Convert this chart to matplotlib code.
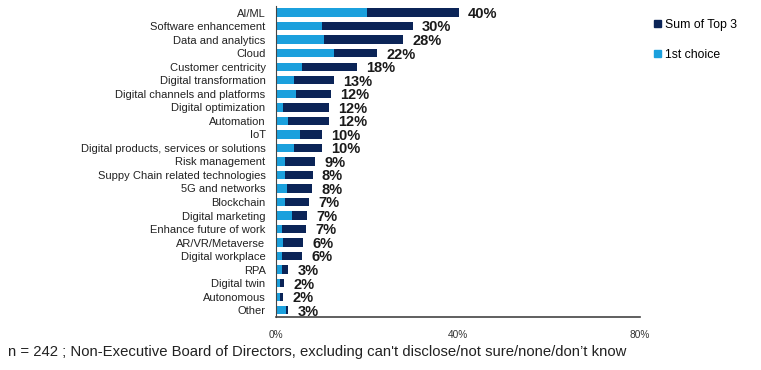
import matplotlib.pyplot as plt
from matplotlib.patches import Patch

plt.rcParams['font.family'] = ['Liberation Sans', 'DejaVu Sans']

categories = ["AI/ML", "Software enhancement", "Data and analytics", "Cloud",
              "Customer centricity", "Digital transformation",
              "Digital channels and platforms", "Digital optimization",
              "Automation", "IoT", "Digital products, services or solutions",
              "Risk management", "Suppy Chain related technologies",
              "5G and networks", "Blockchain", "Digital marketing",
              "Enhance future of work", "AR/VR/Metaverse", "Digital workplace",
              "RPA", "Digital twin", "Autonomous", "Other"]
sum_top3 = [40.2, 30.0, 28.0, 22.3, 17.8, 12.8, 12.1, 11.6, 11.6, 10.2, 10.2,
            8.6, 8.1, 7.9, 7.3, 6.8, 6.6, 6.0, 5.7, 2.7, 1.8, 1.6, 2.7]
first_choice = [20.0, 10.2, 10.6, 12.8, 5.7, 4.0, 4.3, 1.6, 2.7, 5.3, 4.0,
                2.0, 2.0, 2.4, 2.0, 3.6, 1.3, 1.6, 1.3, 1.3, 0.9, 0.9, 2.2]
labels = ["40%", "30%", "28%", "22%", "18%", "13%", "12%", "12%", "12%", "10%",
          "10%", "9%", "8%", "8%", "7%", "7%", "7%", "6%", "6%", "3%", "2%",
          "2%", "3%"]
xticks = [0, 40, 80]

dark = "#0b2457"
light = "#1ba0dd"

fig = plt.figure(figsize=(7.61, 3.70), dpi=100)
ax = fig.add_axes([0.3627, 0.1432, 0.4783, 0.841])

y = list(range(len(categories)))
ax.barh(y, sum_top3, height=0.62, color=dark)
ax.barh(y, first_choice, height=0.62, color=light)

for yi, v, t in zip(y, sum_top3, labels):
    ax.text(v + 2.0, yi + 0.1, t, va="center", ha="left",
            fontsize=10.5, fontweight="bold", color="#1a1a1a")

ax.set_xlim(0, 80)
ax.set_ylim(len(categories) - 0.5, -0.5)
ax.set_yticks(y)
ax.set_yticklabels(categories, fontsize=8.0, color="#222222")
ax.set_xticks(xticks)
ax.set_xticklabels([f"{t}%" for t in xticks], fontsize=7.3, color="#333333")
ax.tick_params(axis="y", length=0, pad=7.5)
ax.tick_params(axis="x", length=0, pad=9)
for s in ["top", "right"]:
    ax.spines[s].set_visible(False)
ax.spines["left"].set_color("#444444")
ax.spines["bottom"].set_color("#444444")
ax.spines["bottom"].set_linewidth(1.2)

handles = [Patch(color=dark, label="Sum of Top 3"),
           Patch(color=light, label="1st choice")]
fig.legend(handles=handles, loc="upper left", bbox_to_anchor=(0.852, 0.965),
           frameon=False, fontsize=8.8, handlelength=0.55, handleheight=0.55,
           handletextpad=0.3, labelspacing=1.45, borderpad=0)

fig.text(0.011, 0.048,
         "n = 242 ; Non-Executive Board of Directors, excluding can't disclose/not sure/none/don\u2019t know",
         fontsize=10.7, color="#222222", ha="left", va="center")

fig.savefig("out.png", dpi=100)
